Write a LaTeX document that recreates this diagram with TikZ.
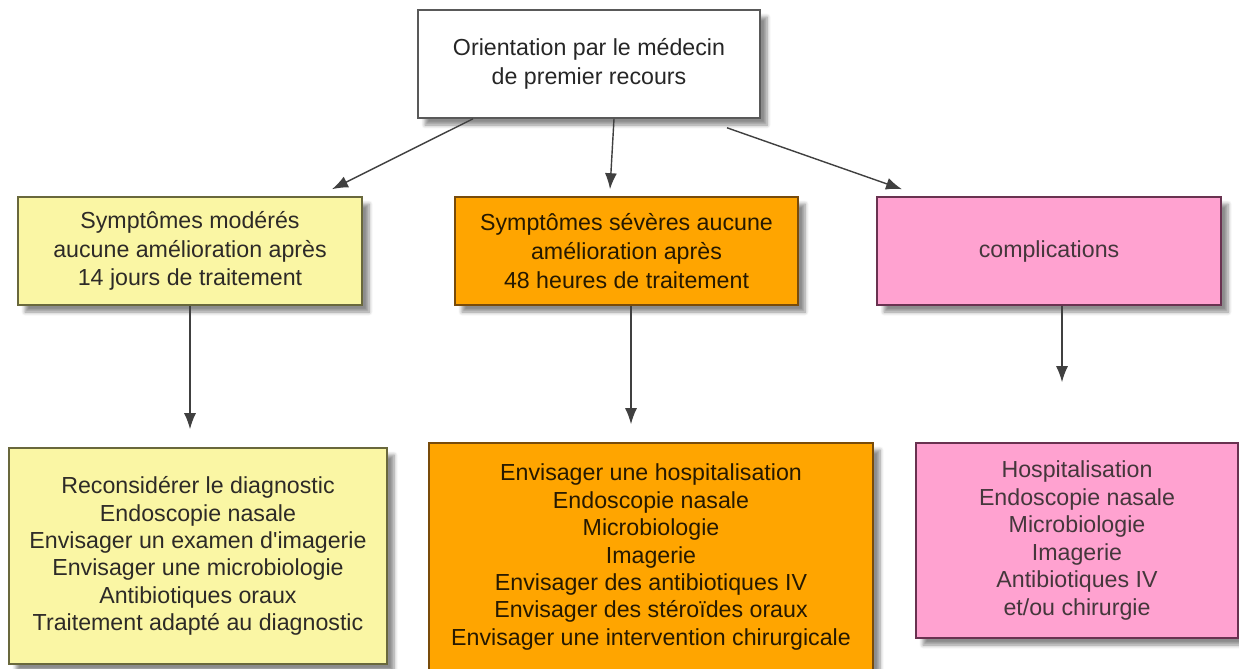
\documentclass[tikz,border=0pt]{standalone}
\usepackage{fontspec}
\setmainfont{Liberation Sans}
\usetikzlibrary{positioning,arrows.meta,shadows.blur}
\definecolor{jaune}{RGB}{250,246,164}
\definecolor{jauneb}{RGB}{105,104,60}
\definecolor{orange}{RGB}{255,165,0}
\definecolor{orangeb}{RGB}{120,75,10}
\definecolor{rose}{RGB}{255,162,208}
\definecolor{roseb}{RGB}{105,50,80}
\tikzset{
	boite/.style={draw, rectangle, align=center, line width=0.9pt,
		blur shadow={shadow xshift=4pt, shadow yshift=-4pt, shadow blur steps=6, shadow opacity=45},
		font=\fontsize{13.2}{16.4}\selectfont},
	haut/.style={boite, draw=black!65, fill=white, text=black!85, minimum width=6.84cm, minimum height=2.16cm},
	modere/.style={boite, draw=jauneb, fill=jaune, text=black!90!olive},
	severe/.style={boite, draw=orangeb, fill=orange, text=black!85!orange},
	compli/.style={boite, draw=roseb, fill=rose, text=black!85!magenta},
	liste/.style={font=\fontsize{13.2}{15.6}\selectfont},
	fleche/.style={draw=black!75, line width=0.8pt, -{Latex[length=3.2mm,width=2.4mm]}}
}
\begin{document}
\begin{tikzpicture}
	\useasboundingbox (0,0) rectangle (24.78,-13.36);
	%% niveau 1
	\node[haut] (orient) at (11.78,-1.28) {Orientation par le médecin\\de premier recours};
	%% niveau 2
	\node[modere, minimum width=6.88cm, minimum height=2.16cm] (moderes) at (3.8,-5.02)
		{Symptômes modérés\\aucune amélioration après\\14 jours de traitement};
	\node[severe, minimum width=6.86cm, minimum height=2.16cm] (severes) at (12.53,-5.02)
		{Symptômes sévères aucune\\amélioration après\\48 heures de traitement};
	\node[compli, minimum width=6.88cm, minimum height=2.16cm] (compl) at (20.98,-5.02) {complications};
	%% niveau 3
	\node[modere, liste, minimum width=7.56cm, minimum height=4.32cm] (reconsid) at (3.96,-11.12)
		{Reconsidérer le diagnostic\\Endoscopie nasale\\Envisager un examen d\textquotesingle imagerie\\Envisager une microbiologie\\Antibiotiques oraux\\Traitement adapté au diagnostic};
	\node[severe, liste, minimum width=8.88cm, minimum height=4.56cm] (envis) at (13.02,-11.14)
		{Envisager une hospitalisation\\Endoscopie nasale\\Microbiologie\\Imagerie\\Envisager des antibiotiques IV\\Envisager des stéroïdes oraux\\Envisager une intervention chirurgicale};
	\node[compli, liste, minimum width=6.44cm, minimum height=3.9cm] (hosp) at (21.54,-10.81)
		{Hospitalisation\\Endoscopie nasale\\Microbiologie\\Imagerie\\Antibiotiques IV\\et/ou chirurgie};
	% liaisons
	\draw[fleche] ([xshift=-2.32cm]orient.south) -- ([xshift=2.84cm,yshift=0.14cm]moderes.north);
	\draw[fleche] ([xshift=0.5cm]orient.south) -- ([xshift=-0.33cm,yshift=0.14cm]severes.north);
	\draw[fleche] ([xshift=2.76cm,yshift=-0.18cm]orient.south) -- ([xshift=-2.94cm,yshift=0.14cm]compl.north);
	\draw[fleche] (moderes.south) -- ([yshift=0.36cm]moderes.south |- reconsid.north);
	\draw[fleche] ([xshift=0.09cm]severes.south) -- ([xshift=0.09cm,yshift=0.36cm]severes.south |- envis.north);
	\draw[fleche] ([xshift=0.26cm]compl.south) -- ([xshift=0.26cm,yshift=1.2cm]compl.south |- hosp.north);
\end{tikzpicture}
\end{document}
